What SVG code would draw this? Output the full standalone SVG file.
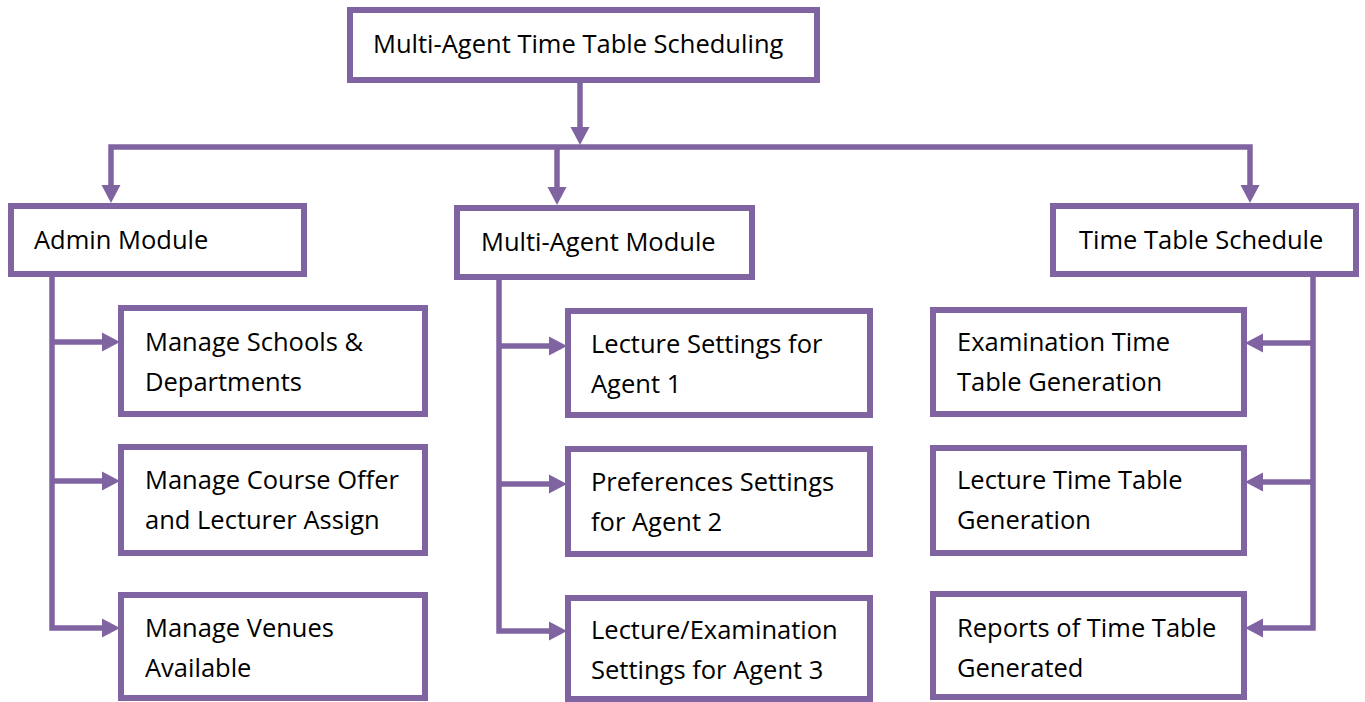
<svg xmlns="http://www.w3.org/2000/svg" width="1365" height="702" viewBox="0 0 1365 702">
<style>
.box{fill:#fff;stroke:#8064A2;stroke-width:6}
.c{fill:none;stroke:#8064A2;stroke-width:5.5}
text{font-family:"Open Sans","Liberation Sans",sans-serif;font-size:25.5px;fill:#000}
</style>
<defs>
<marker id="ah" markerWidth="19" markerHeight="20" refX="1" refY="10" orient="auto" markerUnits="userSpaceOnUse" viewBox="0 0 19 20">
<path d="M0,0.5 L18,10 L0,19.5 z" fill="#8064A2"/>
</marker>
</defs>
<rect width="1365" height="702" fill="#fff"/>
<g id="connectors">
<path class="c" d="M580,83 V128" marker-end="url(#ah)"/>
<path class="c" d="M580,147 H111 V186" marker-end="url(#ah)"/>
<path class="c" d="M580,147 H1250 V186" marker-end="url(#ah)"/>
<path class="c" d="M557,147 V188" marker-end="url(#ah)"/>
<path class="c" d="M52,274 V628 H103" marker-end="url(#ah)"/>
<path class="c" d="M52,342 H103" marker-end="url(#ah)"/>
<path class="c" d="M52,481 H103" marker-end="url(#ah)"/>
<path class="c" d="M499,277 V631 H550" marker-end="url(#ah)"/>
<path class="c" d="M499,346 H550" marker-end="url(#ah)"/>
<path class="c" d="M499,484 H550" marker-end="url(#ah)"/>
<path class="c" d="M1313,274 V628 H1262" marker-end="url(#ah)"/>
<path class="c" d="M1313,343 H1262" marker-end="url(#ah)"/>
<path class="c" d="M1313,482 H1262" marker-end="url(#ah)"/>
</g>
<g id="root"><rect class="box" x="350" y="10" width="467" height="70"/><text x="373" y="53">Multi-Agent Time Table Scheduling</text></g>
<g id="admin"><rect class="box" x="11" y="206" width="293" height="68"/><text x="34" y="249">Admin Module</text></g>
<g id="multiagent"><rect class="box" x="457" y="208" width="295" height="69"/><text x="481" y="251">Multi-Agent Module</text></g>
<g id="tts"><rect class="box" x="1053" y="206" width="303" height="68"/><text x="1079" y="249">Time Table Schedule</text></g>
<g id="a1"><rect class="box" x="121" y="308" width="304" height="106"/><text x="145" y="351">Manage Schools &amp;</text><text x="145" y="391">Departments</text></g>
<g id="a2"><rect class="box" x="121" y="447" width="304" height="106"/><text x="145" y="489">Manage Course Offer</text><text x="145" y="529">and Lecturer Assign</text></g>
<g id="a3"><rect class="box" x="121" y="595" width="304" height="103"/><text x="145" y="637">Manage Venues</text><text x="145" y="677">Available</text></g>
<g id="m1"><rect class="box" x="568" y="311" width="302" height="104"/><text x="591" y="353">Lecture Settings for</text><text x="591" y="393">Agent 1</text></g>
<g id="m2"><rect class="box" x="568" y="449" width="302" height="105"/><text x="591" y="491">Preferences Settings</text><text x="591" y="531">for Agent 2</text></g>
<g id="m3"><rect class="box" x="568" y="598" width="302" height="101"/><text x="591" y="639">Lecture/Examination</text><text x="591" y="679">Settings for Agent 3</text></g>
<g id="t1"><rect class="box" x="933" y="310" width="311" height="104"/><text x="957" y="351">Examination Time</text><text x="957" y="391">Table Generation</text></g>
<g id="t2"><rect class="box" x="933" y="448" width="311" height="105"/><text x="957" y="489">Lecture Time Table</text><text x="957" y="529">Generation</text></g>
<g id="t3"><rect class="box" x="933" y="594" width="311" height="103"/><text x="957" y="637">Reports of Time Table</text><text x="957" y="677">Generated</text></g>
</svg>
